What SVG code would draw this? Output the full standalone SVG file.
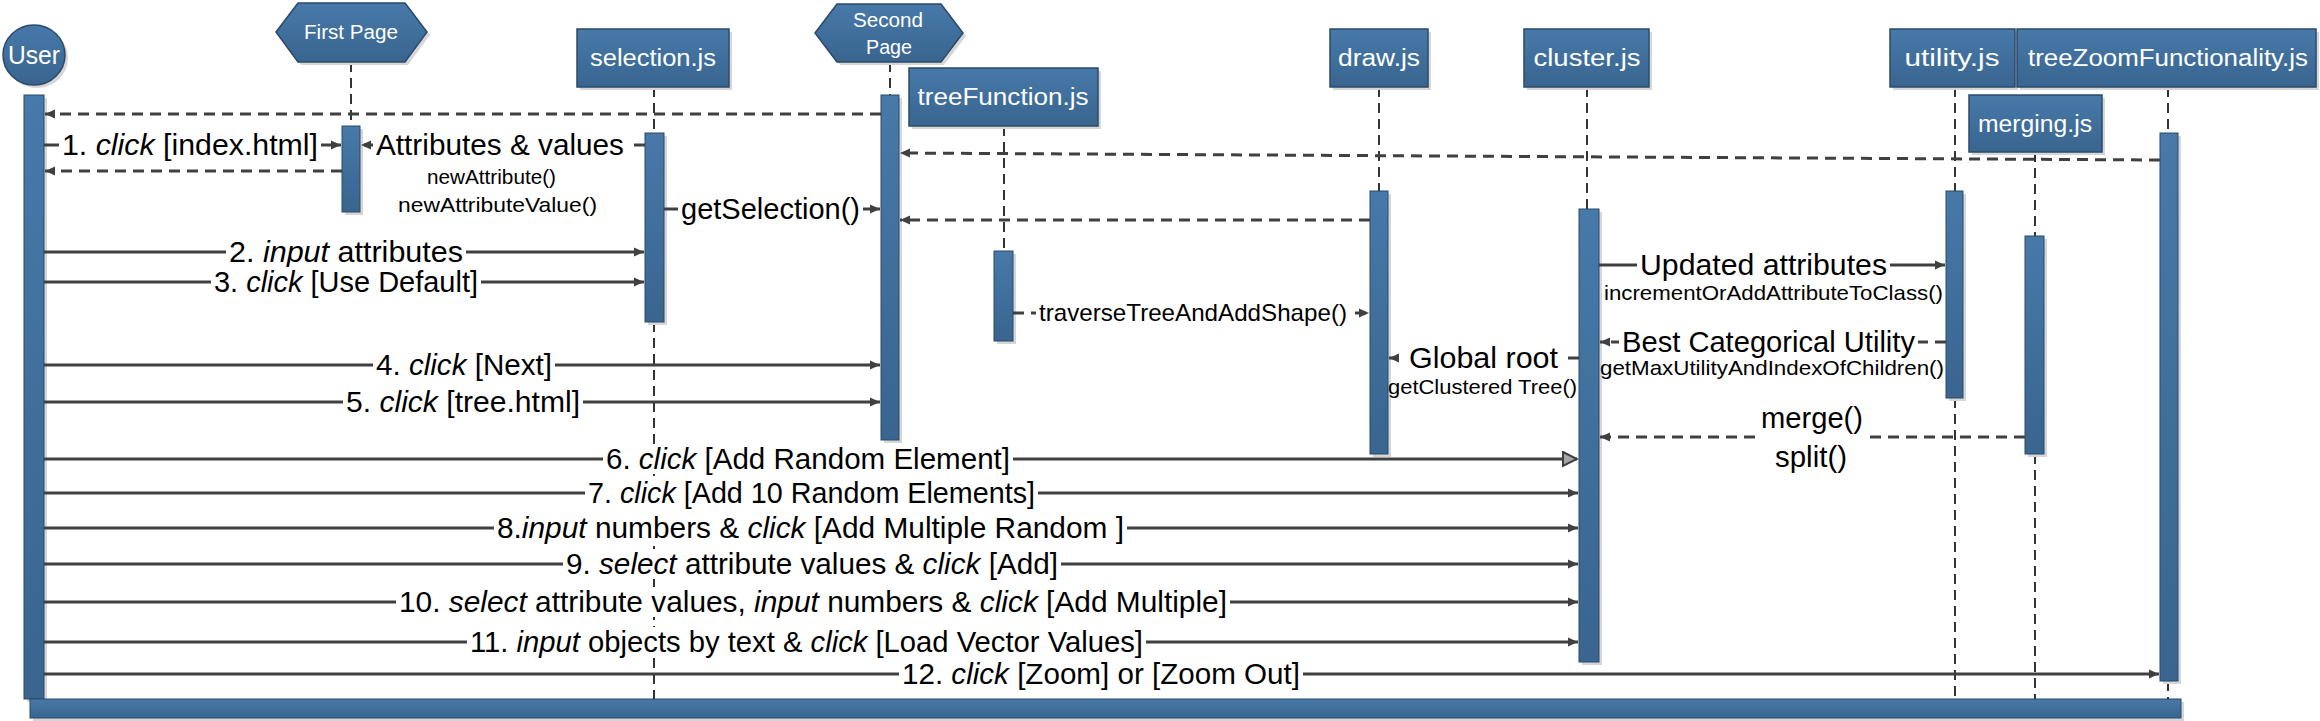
<svg xmlns="http://www.w3.org/2000/svg" width="2320" height="721" viewBox="0 0 2320 721">
<defs>
<linearGradient id="bg" x1="0" y1="0" x2="0" y2="1"><stop offset="0" stop-color="#4779a9"/><stop offset="1" stop-color="#39658f"/></linearGradient>
<marker id="a" markerUnits="userSpaceOnUse" markerWidth="11" markerHeight="10" refX="10" refY="5" orient="auto"><path d="M0,0.5 L10,5 L0,9.5 z" fill="#404040"/></marker>
<marker id="t" markerUnits="userSpaceOnUse" markerWidth="17" markerHeight="17" refX="15" refY="8" orient="auto"><path d="M1,1 L15,8 L1,15 z" fill="#a6a6a6" stroke="#404040" stroke-width="2"/></marker>
<style>
.box{fill:url(#bg);stroke:#2b4a6b;stroke-width:1.5}
.bar{fill:url(#bg);stroke:#2b4a6b;stroke-width:1}
.sh{fill:#d6d6d6}
.life{stroke:#333;stroke-width:2;stroke-dasharray:10 6;fill:none}
.m{stroke:#404040;stroke-width:3;fill:none;marker-end:url(#a)}
.r{stroke:#404040;stroke-width:3;fill:none;stroke-dasharray:11 7;marker-end:url(#a)}
.bt{font-family:"Liberation Sans",Arial,sans-serif;fill:#fff;text-anchor:middle;font-size:23px}
.lb{font-family:"Liberation Sans",Arial,sans-serif;font-size:29px;fill:#000}
.sm{font-size:21px}
.md{font-size:24px}
.i{font-style:italic}
.w{fill:#fff}
</style>
</defs>
<rect width="2320" height="721" fill="#fff"/>

<g id="user">
<ellipse cx="37" cy="58" rx="31" ry="30" class="sh"/>
<ellipse cx="34" cy="55" rx="31" ry="30" class="box"/>
<text x="34" y="64" class="bt" style="font-size:26px" textLength="52" lengthAdjust="spacingAndGlyphs">User</text>
<rect x="27" y="98" width="20" height="604" class="sh"/>
<rect x="24" y="95" width="20" height="604" class="bar"/>
</g>

<g id="frame-bottom">
<rect x="33" y="702" width="2151" height="19" class="sh"/>
<rect x="30" y="699" width="2151" height="19" class="bar"/>
</g>

<g id="first-page">
<line x1="351" y1="62" x2="351" y2="126" class="life"/>
<polygon points="279,35 301,6 408,6 430,35 408,65 301,65" class="sh"/>
<polygon points="276,32 298,3 405,3 427,32 405,62 298,62" class="box"/>
<text x="351" y="39" class="bt" style="font-size:20px" textLength="94" lengthAdjust="spacingAndGlyphs">First Page</text>
<rect x="345" y="129" width="18" height="86" class="sh"/>
<rect x="342" y="126" width="18" height="86" class="bar"/>
</g>

<g id="selection">
<line x1="654" y1="87" x2="654" y2="133" class="life"/>
<line x1="654" y1="322" x2="654" y2="699" class="life"/>
<rect x="580" y="32" width="152" height="58" class="sh"/>
<rect x="577" y="29" width="152" height="58" class="box"/>
<text x="653" y="66" class="bt" textLength="126" lengthAdjust="spacingAndGlyphs">selection.js</text>
<rect x="648" y="136" width="19" height="189" class="sh"/>
<rect x="645" y="133" width="19" height="189" class="bar"/>
</g>

<g id="second-page">
<line x1="890" y1="62" x2="890" y2="95" class="life"/>
<polygon points="818,36 840,7 944,7 966,36 944,65 840,65" class="sh"/>
<polygon points="815,33 837,4 941,4 963,33 941,62 837,62" class="box"/>
<text x="888" y="27" class="bt" style="font-size:20px" textLength="70" lengthAdjust="spacingAndGlyphs">Second</text>
<text x="889" y="54" class="bt" style="font-size:20px" textLength="46" lengthAdjust="spacingAndGlyphs">Page</text>
<rect x="884" y="98" width="18" height="345" class="sh"/>
<rect x="881" y="95" width="18" height="345" class="bar"/>
</g>

<g id="tree-function">
<line x1="1004" y1="126" x2="1004" y2="251" class="life"/>
<rect x="912" y="71" width="189" height="58" class="sh"/>
<rect x="909" y="68" width="189" height="58" class="box"/>
<text x="1003" y="105" class="bt" textLength="171" lengthAdjust="spacingAndGlyphs">treeFunction.js</text>
<rect x="997" y="254" width="19" height="90" class="sh"/>
<rect x="994" y="251" width="19" height="90" class="bar"/>
</g>

<g id="draw">
<line x1="1379" y1="87" x2="1379" y2="191" class="life"/>
<rect x="1333" y="32" width="98" height="58" class="sh"/>
<rect x="1330" y="29" width="98" height="58" class="box"/>
<text x="1379" y="66" class="bt" textLength="82" lengthAdjust="spacingAndGlyphs">draw.js</text>
<rect x="1373" y="194" width="18" height="263" class="sh"/>
<rect x="1370" y="191" width="18" height="263" class="bar"/>
</g>

<g id="cluster">
<line x1="1587" y1="87" x2="1587" y2="209" class="life"/>
<rect x="1527" y="32" width="125" height="58" class="sh"/>
<rect x="1524" y="29" width="125" height="58" class="box"/>
<text x="1587" y="66" class="bt" textLength="107" lengthAdjust="spacingAndGlyphs">cluster.js</text>
<rect x="1582" y="212" width="20" height="453" class="sh"/>
<rect x="1579" y="209" width="20" height="453" class="bar"/>
</g>

<g id="utility">
<line x1="1955" y1="87" x2="1955" y2="191" class="life"/>
<line x1="1955" y1="398" x2="1955" y2="699" class="life"/>
<rect x="1893" y="32" width="125" height="58" class="sh"/>
<rect x="1890" y="29" width="125" height="58" class="box"/>
<text x="1952" y="66" class="bt" textLength="95" lengthAdjust="spacingAndGlyphs">utility.js</text>
<rect x="1949" y="194" width="17" height="207" class="sh"/>
<rect x="1946" y="191" width="17" height="207" class="bar"/>
</g>

<g id="tree-zoom">
<line x1="2168" y1="87" x2="2168" y2="133" class="life"/>
<line x1="2168" y1="681" x2="2168" y2="699" class="life"/>
<rect x="2020" y="32" width="299" height="58" class="sh"/>
<rect x="2017" y="29" width="299" height="58" class="box"/>
<text x="2168" y="66" class="bt" textLength="280" lengthAdjust="spacingAndGlyphs">treeZoomFunctionality.js</text>
<rect x="2163" y="136" width="18" height="548" class="sh"/>
<rect x="2160" y="133" width="18" height="548" class="bar"/>
</g>

<g id="merging">
<line x1="2035" y1="152" x2="2035" y2="236" class="life"/>
<line x1="2035" y1="454" x2="2035" y2="699" class="life"/>
<rect x="1972" y="98" width="133" height="57" class="sh"/>
<rect x="1969" y="95" width="133" height="57" class="box"/>
<text x="2035" y="132" class="bt" textLength="114" lengthAdjust="spacingAndGlyphs">merging.js</text>
<rect x="2028" y="239" width="19" height="218" class="sh"/>
<rect x="2025" y="236" width="19" height="218" class="bar"/>
</g>

<g id="connectors">
<line x1="881" y1="114" x2="45" y2="114" class="r"/>
<line x1="44" y1="145" x2="341" y2="145" class="m"/>
<line x1="645" y1="145" x2="361" y2="145" class="r"/>
<line x1="342" y1="171" x2="45" y2="171" class="r"/>
<line x1="664" y1="209" x2="880" y2="209" class="m"/>
<line x1="2160" y1="160" x2="900" y2="153" class="r"/>
<line x1="1370" y1="220" x2="900" y2="220" class="r"/>
<line x1="44" y1="252" x2="644" y2="252" class="m"/>
<line x1="44" y1="282" x2="644" y2="282" class="m"/>
<line x1="1013" y1="313" x2="1369" y2="313" class="r"/>
<line x1="1599" y1="265" x2="1945" y2="265" class="m"/>
<line x1="1946" y1="342" x2="1600" y2="342" class="r"/>
<line x1="1579" y1="358" x2="1389" y2="358" class="r"/>
<line x1="44" y1="365" x2="880" y2="365" class="m"/>
<line x1="44" y1="402" x2="880" y2="402" class="m"/>
<line x1="2025" y1="437" x2="1600" y2="437" class="r"/>
<line x1="44" y1="459" x2="1577" y2="459" class="m" style="marker-end:url(#t)"/>
<line x1="44" y1="493" x2="1578" y2="493" class="m"/>
<line x1="44" y1="528" x2="1578" y2="528" class="m"/>
<line x1="44" y1="564" x2="1578" y2="564" class="m"/>
<line x1="44" y1="602" x2="1578" y2="602" class="m"/>
<line x1="44" y1="642" x2="1578" y2="642" class="m"/>
<line x1="44" y1="674" x2="2159" y2="674" class="m"/>
</g>

<g id="labels" class="lb">
<rect x="59" y="130" width="262" height="30" class="w"/>
<text x="62" y="155" textLength="256" lengthAdjust="spacingAndGlyphs">1. <tspan class="i">click</tspan> [index.html]</text>
<rect x="373" y="130" width="254" height="30" class="w"/>
<text x="376" y="155" textLength="248" lengthAdjust="spacingAndGlyphs">Attributes &amp; values</text>
<text x="427" y="184" class="sm" textLength="129" lengthAdjust="spacingAndGlyphs">newAttribute()</text>
<text x="398" y="212" class="sm" textLength="199" lengthAdjust="spacingAndGlyphs">newAttributeValue()</text>
<rect x="678" y="194" width="185" height="30" class="w"/>
<text x="681" y="219" textLength="179" lengthAdjust="spacingAndGlyphs">getSelection()</text>
<rect x="226" y="237" width="240" height="30" class="w"/>
<text x="229" y="262" textLength="234" lengthAdjust="spacingAndGlyphs">2. <tspan class="i">input</tspan> attributes</text>
<rect x="211" y="267" width="270" height="30" class="w"/>
<text x="214" y="292" textLength="264" lengthAdjust="spacingAndGlyphs">3. <tspan class="i">click</tspan> [Use Default]</text>
<rect x="1036" y="299" width="314" height="28" class="w"/>
<text x="1039" y="321" class="md" textLength="308" lengthAdjust="spacingAndGlyphs">traverseTreeAndAddShape()</text>
<rect x="1637" y="250" width="253" height="30" class="w"/>
<text x="1640" y="275" textLength="247" lengthAdjust="spacingAndGlyphs">Updated attributes</text>
<text x="1604" y="300" class="sm" textLength="339" lengthAdjust="spacingAndGlyphs">incrementOrAddAttributeToClass()</text>
<rect x="1619" y="327" width="299" height="30" class="w"/>
<text x="1622" y="352" textLength="293" lengthAdjust="spacingAndGlyphs">Best Categorical Utility</text>
<text x="1600" y="375" class="sm" textLength="344" lengthAdjust="spacingAndGlyphs">getMaxUtilityAndIndexOfChildren()</text>
<rect x="1406" y="343" width="155" height="30" class="w"/>
<text x="1409" y="368" textLength="149" lengthAdjust="spacingAndGlyphs">Global root</text>
<text x="1388" y="394" class="sm" textLength="189" lengthAdjust="spacingAndGlyphs">getClustered Tree()</text>
<rect x="373" y="350" width="182" height="30" class="w"/>
<text x="376" y="375" textLength="176" lengthAdjust="spacingAndGlyphs">4. <tspan class="i">click</tspan> [Next]</text>
<rect x="343" y="387" width="240" height="30" class="w"/>
<text x="346" y="412" textLength="234" lengthAdjust="spacingAndGlyphs">5. <tspan class="i">click</tspan> [tree.html]</text>
<rect x="1757" y="404" width="109" height="68" class="w"/>
<text x="1761" y="428" textLength="102" lengthAdjust="spacingAndGlyphs">merge()</text>
<text x="1775" y="467" textLength="72" lengthAdjust="spacingAndGlyphs">split()</text>
<rect x="603" y="444" width="410" height="30" class="w"/>
<text x="606" y="469" textLength="404" lengthAdjust="spacingAndGlyphs">6. <tspan class="i">click</tspan> [Add Random Element]</text>
<rect x="585" y="478" width="453" height="30" class="w"/>
<text x="588" y="503" textLength="447" lengthAdjust="spacingAndGlyphs">7. <tspan class="i">click</tspan> [Add 10 Random Elements]</text>
<rect x="494" y="513" width="633" height="30" class="w"/>
<text x="497" y="538" textLength="627" lengthAdjust="spacingAndGlyphs">8.<tspan class="i">input</tspan> numbers &amp; <tspan class="i">click</tspan> [Add Multiple Random ]</text>
<rect x="563" y="549" width="498" height="30" class="w"/>
<text x="566" y="574" textLength="492" lengthAdjust="spacingAndGlyphs">9. <tspan class="i">select</tspan> attribute values &amp; <tspan class="i">click</tspan> [Add]</text>
<rect x="396" y="587" width="834" height="30" class="w"/>
<text x="399" y="612" textLength="828" lengthAdjust="spacingAndGlyphs">10. <tspan class="i">select</tspan> attribute values, <tspan class="i">input</tspan> numbers &amp; <tspan class="i">click</tspan> [Add Multiple]</text>
<rect x="467" y="627" width="679" height="30" class="w"/>
<text x="470" y="652" textLength="673" lengthAdjust="spacingAndGlyphs">11. <tspan class="i">input</tspan> objects by text &amp; <tspan class="i">click</tspan> [Load Vector Values]</text>
<rect x="899" y="659" width="404" height="30" class="w"/>
<text x="902" y="684" textLength="398" lengthAdjust="spacingAndGlyphs">12. <tspan class="i">click</tspan> [Zoom] or [Zoom Out]</text>
</g>
</svg>
